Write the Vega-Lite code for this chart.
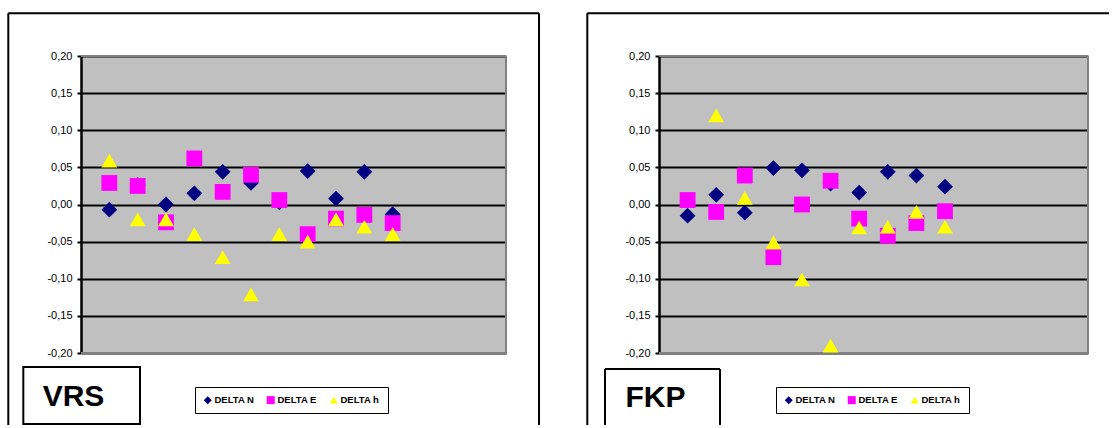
{
  "$schema": "https://vega.github.io/schema/vega-lite/v6.json",
  "autosize": {"type": "pad"},
  "padding": {"left": 7, "top": 12, "right": 0, "bottom": 0},
  "background": "white",
  "bounds": "flush",
  "spacing": 153,
  "datasets": {
    "vrs": [
      {"i": 1, "series": "DELTA N", "value": -0.007},
      {"i": 2, "series": "DELTA N", "value": 0.026},
      {"i": 3, "series": "DELTA N", "value": 0.0},
      {"i": 4, "series": "DELTA N", "value": 0.015},
      {"i": 5, "series": "DELTA N", "value": 0.044},
      {"i": 6, "series": "DELTA N", "value": 0.029},
      {"i": 7, "series": "DELTA N", "value": 0.003},
      {"i": 8, "series": "DELTA N", "value": 0.045},
      {"i": 9, "series": "DELTA N", "value": 0.008},
      {"i": 10, "series": "DELTA N", "value": 0.044},
      {"i": 11, "series": "DELTA N", "value": -0.013},
      {"i": 1, "series": "DELTA E", "value": 0.029},
      {"i": 2, "series": "DELTA E", "value": 0.025},
      {"i": 3, "series": "DELTA E", "value": -0.024},
      {"i": 4, "series": "DELTA E", "value": 0.062},
      {"i": 5, "series": "DELTA E", "value": 0.017},
      {"i": 6, "series": "DELTA E", "value": 0.04},
      {"i": 7, "series": "DELTA E", "value": 0.006},
      {"i": 8, "series": "DELTA E", "value": -0.04},
      {"i": 9, "series": "DELTA E", "value": -0.019},
      {"i": 10, "series": "DELTA E", "value": -0.014},
      {"i": 11, "series": "DELTA E", "value": -0.025},
      {"i": 1, "series": "DELTA h", "value": 0.059},
      {"i": 2, "series": "DELTA h", "value": -0.02},
      {"i": 3, "series": "DELTA h", "value": -0.02},
      {"i": 4, "series": "DELTA h", "value": -0.04},
      {"i": 5, "series": "DELTA h", "value": -0.071},
      {"i": 6, "series": "DELTA h", "value": -0.121},
      {"i": 7, "series": "DELTA h", "value": -0.04},
      {"i": 8, "series": "DELTA h", "value": -0.05},
      {"i": 9, "series": "DELTA h", "value": -0.02},
      {"i": 10, "series": "DELTA h", "value": -0.03},
      {"i": 11, "series": "DELTA h", "value": -0.04}
    ],
    "fkp": [
      {"i": 1, "series": "DELTA N", "value": -0.015},
      {"i": 2, "series": "DELTA N", "value": 0.013},
      {"i": 3, "series": "DELTA N", "value": -0.011},
      {"i": 4, "series": "DELTA N", "value": 0.049},
      {"i": 5, "series": "DELTA N", "value": 0.046},
      {"i": 6, "series": "DELTA N", "value": 0.028},
      {"i": 7, "series": "DELTA N", "value": 0.016},
      {"i": 8, "series": "DELTA N", "value": 0.044},
      {"i": 9, "series": "DELTA N", "value": 0.039},
      {"i": 10, "series": "DELTA N", "value": 0.024},
      {"i": 1, "series": "DELTA E", "value": 0.006},
      {"i": 2, "series": "DELTA E", "value": -0.01},
      {"i": 3, "series": "DELTA E", "value": 0.039},
      {"i": 4, "series": "DELTA E", "value": -0.071},
      {"i": 5, "series": "DELTA E", "value": 0.0},
      {"i": 6, "series": "DELTA E", "value": 0.032},
      {"i": 7, "series": "DELTA E", "value": -0.019},
      {"i": 8, "series": "DELTA E", "value": -0.042},
      {"i": 9, "series": "DELTA E", "value": -0.025},
      {"i": 10, "series": "DELTA E", "value": -0.009},
      {"i": 2, "series": "DELTA h", "value": 0.12},
      {"i": 3, "series": "DELTA h", "value": 0.009},
      {"i": 4, "series": "DELTA h", "value": -0.051},
      {"i": 5, "series": "DELTA h", "value": -0.101},
      {"i": 6, "series": "DELTA h", "value": -0.19},
      {"i": 7, "series": "DELTA h", "value": -0.031},
      {"i": 8, "series": "DELTA h", "value": -0.03},
      {"i": 9, "series": "DELTA h", "value": -0.01},
      {"i": 10, "series": "DELTA h", "value": -0.03}
    ]
  },
  "hconcat": [
    {
      "width": 425,
      "height": 297,
      "layer": [
        {
          "data": {"values": [{}]},
          "mark": {"type": "rule", "color": "#000", "strokeWidth": 2, "clip": false},
          "encoding": {
            "x": {"datum": -2.566, "type": "quantitative", "scale": {"domain": [0, 15], "nice": false, "zero": false}, "axis": null},
            "y": {"datum": 0.2575, "type": "quantitative", "scale": {"domain": [-0.2, 0.2], "nice": false, "zero": false}, "title": null},
            "y2": {"datum": -0.297}
          }
        },
        {
          "data": {"values": [{}]},
          "mark": {"type": "rule", "color": "#000", "strokeWidth": 2, "clip": false},
          "encoding": {
            "x": {"datum": -2.566, "type": "quantitative", "scale": {"domain": [0, 15], "nice": false, "zero": false}, "axis": null},
            "x2": {"datum": 16.165},
            "y": {"datum": 0.2575, "type": "quantitative", "scale": {"domain": [-0.2, 0.2], "nice": false, "zero": false}, "title": null}
          }
        },
        {
          "data": {"values": [{}]},
          "mark": {"type": "rule", "color": "#000", "strokeWidth": 2, "clip": false},
          "encoding": {
            "x": {"datum": 16.165, "type": "quantitative", "scale": {"domain": [0, 15], "nice": false, "zero": false}, "axis": null},
            "y": {"datum": 0.2575, "type": "quantitative", "scale": {"domain": [-0.2, 0.2], "nice": false, "zero": false}, "title": null},
            "y2": {"datum": -0.297}
          }
        },
        {
          "data": {"values": [{}]},
          "mark": {"type": "rect", "filled": false, "stroke": "#000", "strokeWidth": 2, "clip": false},
          "encoding": {
            "x": {"datum": -2.036, "type": "quantitative", "scale": {"domain": [0, 15], "nice": false, "zero": false}, "axis": null},
            "x2": {"datum": 2.082},
            "y": {"datum": -0.2189, "type": "quantitative", "scale": {"domain": [-0.2, 0.2], "nice": false, "zero": false}, "title": null},
            "y2": {"datum": -0.2956}
          }
        },
        {
          "data": {"values": [{}]},
          "mark": {"type": "text", "font": "Liberation Sans", "fontWeight": "bold", "fontSize": 30, "align": "center", "baseline": "alphabetic", "color": "#000", "clip": false},
          "encoding": {
            "x": {"datum": -0.265, "type": "quantitative", "scale": {"domain": [0, 15], "nice": false, "zero": false}, "axis": null},
            "y": {"datum": -0.2714, "type": "quantitative", "scale": {"domain": [-0.2, 0.2], "nice": false, "zero": false}, "title": null},
            "text": {"value": "VRS"}
          }
        },
        {
          "data": {"values": [{}]},
          "mark": {"type": "rule", "color": "#808080", "strokeWidth": 2, "clip": false},
          "encoding": {
            "x": {"datum": 0, "type": "quantitative", "scale": {"domain": [0, 15], "nice": false, "zero": false}, "axis": null},
            "x2": {"datum": 15},
            "y": {"datum": 0.2, "type": "quantitative", "scale": {"domain": [-0.2, 0.2], "nice": false, "zero": false}, "title": null}
          }
        },
        {
          "data": {"values": [{}]},
          "mark": {"type": "rule", "color": "#808080", "strokeWidth": 2, "clip": false},
          "encoding": {
            "x": {"datum": 0, "type": "quantitative", "scale": {"domain": [0, 15], "nice": false, "zero": false}, "axis": null},
            "x2": {"datum": 15},
            "y": {"datum": -0.2, "type": "quantitative", "scale": {"domain": [-0.2, 0.2], "nice": false, "zero": false}, "title": null}
          }
        },
        {
          "data": {"values": [{}]},
          "mark": {"type": "rule", "color": "#808080", "strokeWidth": 2, "clip": false},
          "encoding": {
            "x": {"datum": 15, "type": "quantitative", "scale": {"domain": [0, 15], "nice": false, "zero": false}, "axis": null},
            "y": {"datum": 0.2, "type": "quantitative", "scale": {"domain": [-0.2, 0.2], "nice": false, "zero": false}, "title": null},
            "y2": {"datum": -0.2}
          }
        },
        {
          "data": {"name": "vrs"},
          "mark": {"type": "point", "filled": true, "opacity": 1, "size": 250, "clip": false},
          "encoding": {
            "x": {"field": "i", "type": "quantitative", "scale": {"domain": [0, 15], "nice": false, "zero": false}, "axis": null},
            "y": {"field": "value", "type": "quantitative", "scale": {"domain": [-0.2, 0.2], "nice": false, "zero": false}, "title": null},
            "color": {
              "field": "series", "type": "nominal",
              "scale": {"domain": ["DELTA N", "DELTA E", "DELTA h"], "range": ["#000080", "#FF00FF", "#FFFF00"]},
              "legend": {"orient": "none", "legendX": 114, "legendY": 331, "direction": "horizontal", "title": null, "encode": {"legend": {"update": {"strokeWidth": {"value": 2}}}}}
            },
            "shape": {
              "field": "series", "type": "nominal",
              "scale": {"domain": ["DELTA N", "DELTA E", "DELTA h"], "range": ["diamond", "square", "triangle-up"]},
              "legend": {"orient": "none", "legendX": 114, "legendY": 331, "direction": "horizontal", "title": null, "encode": {"legend": {"update": {"strokeWidth": {"value": 2}}}}}
            }
          }
        }
      ]
    },
    {
      "width": 429,
      "height": 297,
      "layer": [
        {
          "data": {"values": [{}]},
          "mark": {"type": "rule", "color": "#000", "strokeWidth": 2, "clip": false},
          "encoding": {
            "x": {"datum": -2.507, "type": "quantitative", "scale": {"domain": [0, 15], "nice": false, "zero": false}, "axis": null},
            "y": {"datum": 0.2575, "type": "quantitative", "scale": {"domain": [-0.2, 0.2], "nice": false, "zero": false}, "title": null},
            "y2": {"datum": -0.297}
          }
        },
        {
          "data": {"values": [{}]},
          "mark": {"type": "rule", "color": "#000", "strokeWidth": 2, "clip": false},
          "encoding": {
            "x": {"datum": -2.507, "type": "quantitative", "scale": {"domain": [0, 15], "nice": false, "zero": false}, "axis": null},
            "x2": {"datum": 15.734},
            "y": {"datum": 0.2575, "type": "quantitative", "scale": {"domain": [-0.2, 0.2], "nice": false, "zero": false}, "title": null}
          }
        },
        {
          "data": {"values": [{}]},
          "mark": {"type": "rule", "color": "#000", "strokeWidth": 2, "clip": false},
          "encoding": {
            "x": {"datum": -1.888, "type": "quantitative", "scale": {"domain": [0, 15], "nice": false, "zero": false}, "axis": null},
            "y": {"datum": -0.2216, "type": "quantitative", "scale": {"domain": [-0.2, 0.2], "nice": false, "zero": false}, "title": null},
            "y2": {"datum": -0.297}
          }
        },
        {
          "data": {"values": [{}]},
          "mark": {"type": "rule", "color": "#000", "strokeWidth": 2, "clip": false},
          "encoding": {
            "x": {"datum": -1.888, "type": "quantitative", "scale": {"domain": [0, 15], "nice": false, "zero": false}, "axis": null},
            "x2": {"datum": 2.133},
            "y": {"datum": -0.2216, "type": "quantitative", "scale": {"domain": [-0.2, 0.2], "nice": false, "zero": false}, "title": null}
          }
        },
        {
          "data": {"values": [{}]},
          "mark": {"type": "rule", "color": "#000", "strokeWidth": 2, "clip": false},
          "encoding": {
            "x": {"datum": 2.133, "type": "quantitative", "scale": {"domain": [0, 15], "nice": false, "zero": false}, "axis": null},
            "y": {"datum": -0.2216, "type": "quantitative", "scale": {"domain": [-0.2, 0.2], "nice": false, "zero": false}, "title": null},
            "y2": {"datum": -0.297}
          }
        },
        {
          "data": {"values": [{}]},
          "mark": {"type": "text", "font": "Liberation Sans", "fontWeight": "bold", "fontSize": 30, "align": "center", "baseline": "alphabetic", "color": "#000", "clip": false},
          "encoding": {
            "x": {"datum": -0.122, "type": "quantitative", "scale": {"domain": [0, 15], "nice": false, "zero": false}, "axis": null},
            "y": {"datum": -0.2727, "type": "quantitative", "scale": {"domain": [-0.2, 0.2], "nice": false, "zero": false}, "title": null},
            "text": {"value": "FKP"}
          }
        },
        {
          "data": {"values": [{}]},
          "mark": {"type": "rule", "color": "#808080", "strokeWidth": 2, "clip": false},
          "encoding": {
            "x": {"datum": 0, "type": "quantitative", "scale": {"domain": [0, 15], "nice": false, "zero": false}, "axis": null},
            "x2": {"datum": 15},
            "y": {"datum": 0.2, "type": "quantitative", "scale": {"domain": [-0.2, 0.2], "nice": false, "zero": false}, "title": null}
          }
        },
        {
          "data": {"values": [{}]},
          "mark": {"type": "rule", "color": "#808080", "strokeWidth": 2, "clip": false},
          "encoding": {
            "x": {"datum": 0, "type": "quantitative", "scale": {"domain": [0, 15], "nice": false, "zero": false}, "axis": null},
            "x2": {"datum": 15},
            "y": {"datum": -0.2, "type": "quantitative", "scale": {"domain": [-0.2, 0.2], "nice": false, "zero": false}, "title": null}
          }
        },
        {
          "data": {"values": [{}]},
          "mark": {"type": "rule", "color": "#808080", "strokeWidth": 2, "clip": false},
          "encoding": {
            "x": {"datum": 15, "type": "quantitative", "scale": {"domain": [0, 15], "nice": false, "zero": false}, "axis": null},
            "y": {"datum": 0.2, "type": "quantitative", "scale": {"domain": [-0.2, 0.2], "nice": false, "zero": false}, "title": null},
            "y2": {"datum": -0.2}
          }
        },
        {
          "data": {"name": "fkp"},
          "mark": {"type": "point", "filled": true, "opacity": 1, "size": 250, "clip": false},
          "encoding": {
            "x": {"field": "i", "type": "quantitative", "scale": {"domain": [0, 15], "nice": false, "zero": false}, "axis": null},
            "y": {"field": "value", "type": "quantitative", "scale": {"domain": [-0.2, 0.2], "nice": false, "zero": false}, "title": null},
            "color": {
              "field": "series", "type": "nominal",
              "scale": {"domain": ["DELTA N", "DELTA E", "DELTA h"], "range": ["#000080", "#FF00FF", "#FFFF00"]},
              "legend": {"orient": "none", "legendX": 117, "legendY": 331, "direction": "horizontal", "title": null, "encode": {"legend": {"update": {"strokeWidth": {"value": 2}}}}}
            },
            "shape": {
              "field": "series", "type": "nominal",
              "scale": {"domain": ["DELTA N", "DELTA E", "DELTA h"], "range": ["diamond", "square", "triangle-up"]},
              "legend": {"orient": "none", "legendX": 117, "legendY": 331, "direction": "horizontal", "title": null, "encode": {"legend": {"update": {"strokeWidth": {"value": 2}}}}}
            }
          }
        }
      ]
    }
  ],
  "resolve": {
    "scale": {"color": "independent", "shape": "independent"},
    "legend": {"color": "independent", "shape": "independent"}
  },
  "config": {
    "locale": {"number": {"decimal": ",", "thousands": ".", "grouping": [3], "currency": ["", " €"], "minus": "-"}},
    "numberFormat": ".2f",
    "view": {"fill": "#C0C0C0", "stroke": null},
    "font": "Liberation Sans",
    "axisY": {
      "grid": true,
      "tickCount": 8,
      "gridColor": "#000",
      "gridWidth": 2,
      "gridOpacity": 1,
      "domainColor": "#000",
      "domainWidth": 2.5,
      "tickColor": "#000",
      "tickWidth": 2,
      "tickSize": 4,
      "labelPadding": 5,
      "labelFont": "Liberation Sans",
      "labelFontSize": 11,
      "labelColor": "#000"
    },
    "legend": {
      "strokeColor": "#000",
      "fillColor": "#fff",
      "padding": 8,
      "symbolSize": 64,
      "symbolStrokeWidth": 0,
      "labelFont": "Liberation Sans",
      "labelFontSize": 9.5,
      "labelFontWeight": "bold",
      "labelColor": "#000",
      "labelOffset": 2,
      "columnPadding": 11,
      "gridAlign": "all"
    }
  }
}
